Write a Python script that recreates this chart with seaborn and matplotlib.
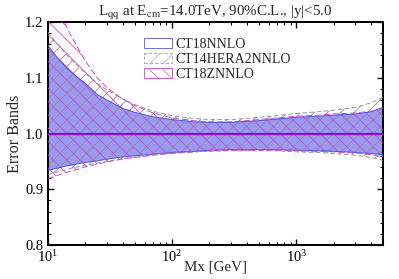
import numpy as np
import matplotlib
matplotlib.use("Agg")
import matplotlib.pyplot as plt
import seaborn as sns
from matplotlib.patches import Patch
from matplotlib.ticker import MultipleLocator, LogLocator

# ---- data ----
mx = [10, 12, 15, 20, 25, 30, 40, 50, 70, 100, 150, 200, 300, 500, 700,
      1000, 1500, 2000, 3000, 4000, 5000]

ct18_up = [1.158, 1.135, 1.112, 1.09, 1.07, 1.06, 1.045, 1.038, 1.03, 1.025,
           1.021, 1.02, 1.02, 1.023, 1.026, 1.029, 1.031, 1.033, 1.035, 1.039, 1.047]
ct18_lo = [0.934, 0.938, 0.943, 0.948, 0.951, 0.954, 0.958, 0.960, 0.963, 0.966,
           0.968, 0.970, 0.971, 0.971, 0.971, 0.970, 0.969, 0.968, 0.966, 0.964, 0.962]

ct14_up = [1.182, 1.16, 1.135, 1.108, 1.09, 1.078, 1.062, 1.052, 1.04, 1.032,
           1.027, 1.025, 1.025, 1.029, 1.032, 1.036, 1.039, 1.042, 1.047, 1.055, 1.065]
ct14_lo = [0.926, 0.931, 0.937, 0.943, 0.947, 0.950, 0.955, 0.958, 0.962, 0.965,
           0.967, 0.968, 0.969, 0.969, 0.969, 0.967, 0.966, 0.964, 0.961, 0.957, 0.952]

ct18z_up = [1.26, 1.225, 1.18, 1.13, 1.10, 1.082, 1.062, 1.05, 1.037, 1.028,
            1.023, 1.021, 1.021, 1.025, 1.028, 1.031, 1.033, 1.035, 1.037, 1.040, 1.045]
ct18z_lo = [0.919, 0.925, 0.932, 0.940, 0.945, 0.949, 0.954, 0.957, 0.961, 0.964,
            0.967, 0.969, 0.970, 0.970, 0.970, 0.969, 0.968, 0.967, 0.965, 0.962, 0.958]

labels = ["CT18NNLO", "CT14HERA2NNLO", "CT18ZNNLO"]
title = r"L$_{\rm qq}$ at E$_{\rm cm}$=14.0TeV, 90%C.L., |y|<5.0"
xlabel = "Mx [GeV]"
ylabel = "Error Bands"

# ---- style ----
sns.set_theme(style="ticks")
plt.rcParams["font.family"] = ["Liberation Serif", "DejaVu Serif"]
plt.rcParams["mathtext.fontset"] = "stix"
plt.rcParams["hatch.linewidth"] = 0.7

DPI = 80
fig = plt.figure(figsize=(399 / DPI, 279 / DPI), dpi=DPI)
ax = fig.add_axes([0.12, 0.122, 0.84, 0.799])

blue_face = "#9a9af0"
blue_edge = "#4a5ae6"
gray = "#8c8c8c"
mag = "#d040d0"

x = np.array(mx, dtype=float)

# bands
ax.fill_between(x, ct18_lo, ct18_up, facecolor=blue_face, edgecolor="none",
                linewidth=0, zorder=1)
ax.fill_between(x, ct14_lo, ct14_up, facecolor="none", edgecolor=gray,
                hatch="//", linewidth=0, zorder=2)
ax.fill_between(x, ct18z_lo, ct18z_up, facecolor="none", edgecolor=mag,
                hatch="\\\\", linewidth=0, zorder=3)

# edges
for yy in (ct18_up, ct18_lo):
    sns.lineplot(x=x, y=yy, ax=ax, color=blue_edge, lw=0.9, zorder=4,
                 legend=False, estimator=None)
for yy in (ct14_up, ct14_lo):
    sns.lineplot(x=x, y=yy, ax=ax, color=gray, lw=0.8, zorder=4,
                 legend=False, estimator=None, linestyle=(0, (5, 3)))
for yy in (ct18z_up, ct18z_lo):
    sns.lineplot(x=x, y=yy, ax=ax, color=mag, lw=0.8, zorder=4,
                 legend=False, estimator=None, linestyle=(0, (7, 3)))

# central lines
ones = np.ones_like(x)
sns.lineplot(x=x, y=ones, ax=ax, color="#2828d8", lw=2.0, zorder=5, legend=False)
sns.lineplot(x=x, y=ones, ax=ax, color="#c000c0", lw=1.6, alpha=0.75, zorder=6,
             legend=False)

ax.set_xscale("log")
ax.set_xlim(10, 5000)
ax.set_ylim(0.8, 1.2)
ax.yaxis.set_major_locator(MultipleLocator(0.1))
ax.yaxis.set_minor_locator(MultipleLocator(0.02))
ax.xaxis.set_major_locator(LogLocator(base=10))
ax.xaxis.set_minor_locator(LogLocator(base=10, subs=np.arange(2, 10)))

ax.tick_params(which="both", direction="in", top=True, right=True,
               colors="black", labelsize=13, pad=4)
ax.tick_params(axis="x", which="both", pad=3.5)
ax.tick_params(which="major", length=5, width=1.2)
ax.tick_params(which="minor", length=3, width=1.0)
for s in ax.spines.values():
    s.set_linewidth(1.8)
    s.set_color("black")

ax.set_title(title, fontsize=13.5, pad=3)
ax.set_xlabel(xlabel, fontsize=13.5, labelpad=-4)
ax.set_ylabel(ylabel, fontsize=14.5, labelpad=2)

handles = [
    Patch(facecolor="white", edgecolor="#7070e8", linewidth=0.9),
    Patch(facecolor="white", edgecolor="#b0b0b0", hatch="//", linewidth=0.9,
          linestyle="--"),
    Patch(facecolor="white", edgecolor="#d060d0", hatch="\\\\", linewidth=0.9),
]
ax.legend(handles, labels, loc="upper left", bbox_to_anchor=(0.27, 0.955),
          frameon=False, fontsize=12.5, handlelength=2.0, handleheight=0.7,
          handletextpad=0.3, labelspacing=0.15, borderaxespad=0)

fig.savefig("out.png", dpi=DPI)
